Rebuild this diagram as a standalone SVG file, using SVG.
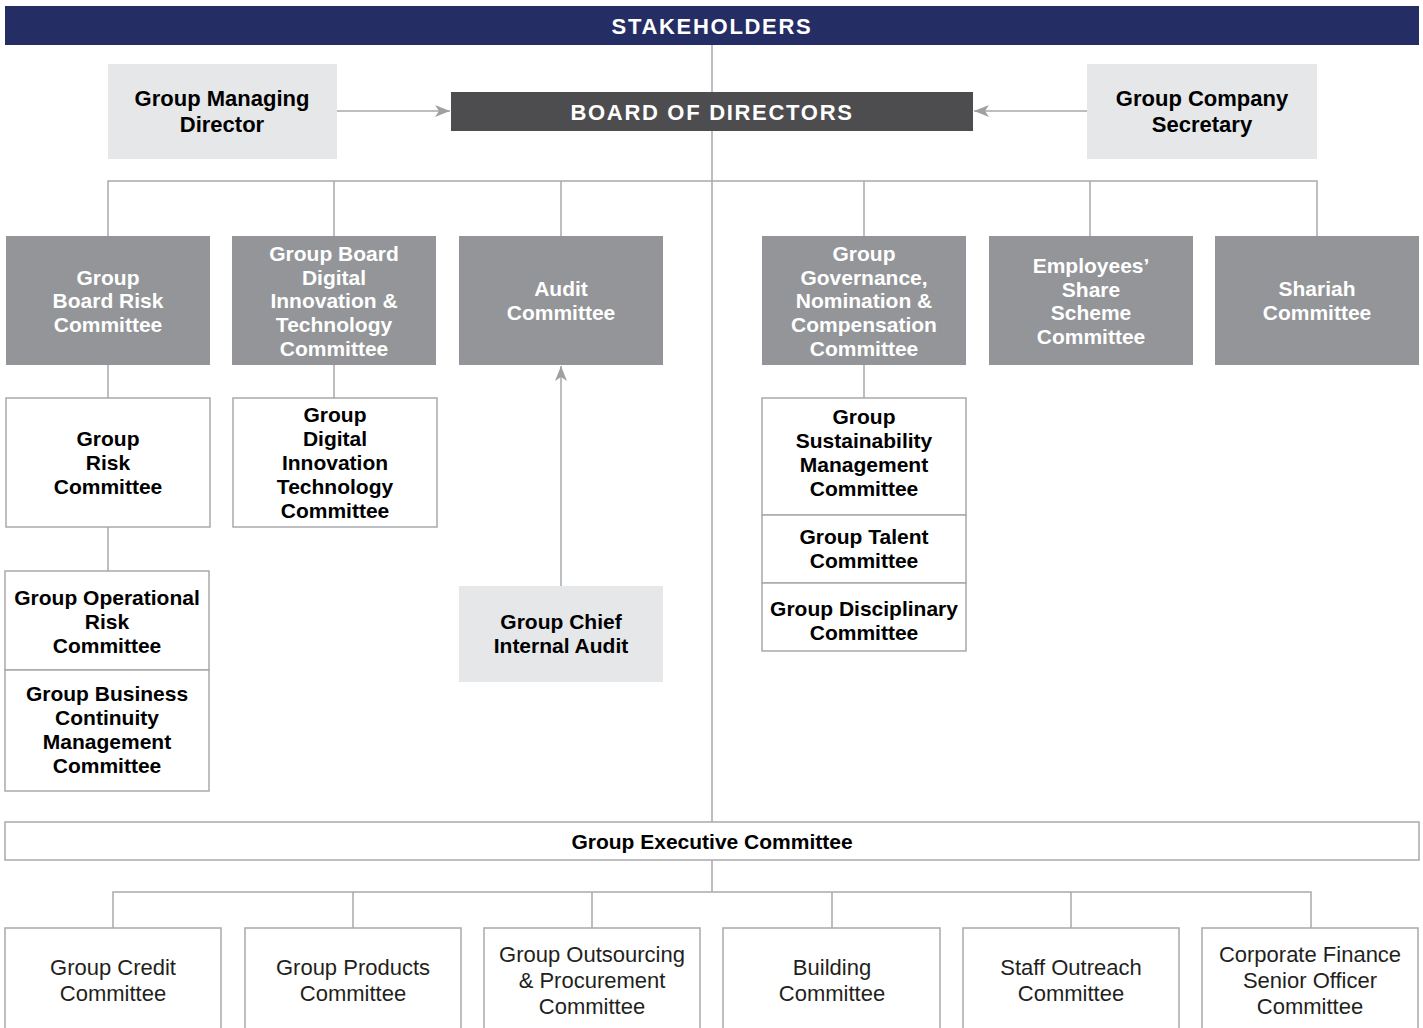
<svg xmlns="http://www.w3.org/2000/svg" width="1423" height="1028" viewBox="0 0 1423 1028">
<style>
.ln{stroke:#a7a9ac;stroke-width:1.5;fill:none}
.lt{fill:#e6e7e9}
.gr{fill:#939598}
.wb{fill:#ffffff;stroke:#a7a9ac;stroke-width:1.5}
.tw{font-family:"Liberation Sans",Arial,sans-serif;font-weight:bold;font-size:21px;fill:#ffffff;text-anchor:middle}
.tb{font-family:"Liberation Sans",Arial,sans-serif;font-weight:bold;font-size:21px;fill:#000000;text-anchor:middle}
.tl{font-family:"Liberation Sans",Arial,sans-serif;font-weight:bold;font-size:22px;fill:#000000;text-anchor:middle}
.tr{font-family:"Liberation Sans",Arial,sans-serif;font-size:22px;fill:#231f20;text-anchor:middle}
.th{font-family:"Liberation Sans",Arial,sans-serif;font-weight:bold;font-size:22px;fill:#ffffff;text-anchor:middle;letter-spacing:1.7px}
</style>
<defs>
<marker id="ah" markerUnits="userSpaceOnUse" markerWidth="16" markerHeight="12" refX="15" refY="6" orient="auto">
<path d="M0,0 L15,6 L0,12 L4,6 Z" fill="#a0a0a0"/>
</marker>
</defs>
<rect width="1423" height="1028" fill="#ffffff"/>
<g id="connectors">
<line class="ln" x1="712" y1="45" x2="712" y2="822"/>
<line class="ln" x1="337" y1="111" x2="450" y2="111" marker-end="url(#ah)"/>
<line class="ln" x1="1087" y1="111" x2="974" y2="111" marker-end="url(#ah)"/>
<polyline class="ln" points="108,236 108,181 1317,181 1317,236"/>
<line class="ln" x1="334" y1="181" x2="334" y2="236"/>
<line class="ln" x1="561" y1="181" x2="561" y2="236"/>
<line class="ln" x1="864" y1="181" x2="864" y2="236"/>
<line class="ln" x1="1090" y1="181" x2="1090" y2="236"/>
<line class="ln" x1="108" y1="365" x2="108" y2="398"/>
<line class="ln" x1="108" y1="527" x2="108" y2="571"/>
<line class="ln" x1="334" y1="365" x2="334" y2="398"/>
<line class="ln" x1="864" y1="365" x2="864" y2="398"/>
<line class="ln" x1="561" y1="586" x2="561" y2="366" marker-end="url(#ah)"/>
<line class="ln" x1="712" y1="860" x2="712" y2="892"/>
<polyline class="ln" points="113,928 113,892 1311,892 1311,928"/>
<line class="ln" x1="353" y1="892" x2="353" y2="928"/>
<line class="ln" x1="592" y1="892" x2="592" y2="928"/>
<line class="ln" x1="832" y1="892" x2="832" y2="928"/>
<line class="ln" x1="1071" y1="892" x2="1071" y2="928"/>
</g>
<g id="stakeholders">
<rect x="5" y="6" width="1414" height="39" fill="#252e64"/>
<text class="th" x="712" y="34">STAKEHOLDERS</text>
</g>
<g id="gmd">
<rect class="lt" x="108" y="64" width="229" height="95"/>
<text class="tl" x="222" y="106">Group Managing</text>
<text class="tl" x="222" y="132">Director</text>
</g>
<g id="board">
<rect x="451" y="92" width="522" height="39" fill="#4d4d4f"/>
<text class="th" x="712" y="120">BOARD OF DIRECTORS</text>
</g>
<g id="gcs">
<rect class="lt" x="1087" y="64" width="230" height="95"/>
<text class="tl" x="1202" y="106">Group Company</text>
<text class="tl" x="1202" y="132">Secretary</text>
</g>
<g id="gbrc">
<rect class="gr" x="6" y="236" width="204" height="129"/>
<text class="tw" x="108" y="285">Group</text>
<text class="tw" x="108" y="308">Board Risk</text>
<text class="tw" x="108" y="332">Committee</text>
</g>
<g id="gbdit">
<rect class="gr" x="232" y="236" width="204" height="129"/>
<text class="tw" x="334" y="261">Group Board</text>
<text class="tw" x="334" y="285">Digital</text>
<text class="tw" x="334" y="308">Innovation &amp;</text>
<text class="tw" x="334" y="332">Technology</text>
<text class="tw" x="334" y="356">Committee</text>
</g>
<g id="audit">
<rect class="gr" x="459" y="236" width="204" height="129"/>
<text class="tw" x="561" y="296">Audit</text>
<text class="tw" x="561" y="320">Committee</text>
</g>
<g id="ggnc">
<rect class="gr" x="762" y="236" width="204" height="129"/>
<text class="tw" x="864" y="261">Group</text>
<text class="tw" x="864" y="285">Governance,</text>
<text class="tw" x="864" y="308">Nomination &amp;</text>
<text class="tw" x="864" y="332">Compensation</text>
<text class="tw" x="864" y="356">Committee</text>
</g>
<g id="ess">
<rect class="gr" x="989" y="236" width="204" height="129"/>
<text class="tw" x="1091" y="273">Employees’</text>
<text class="tw" x="1091" y="297">Share</text>
<text class="tw" x="1091" y="320">Scheme</text>
<text class="tw" x="1091" y="344">Committee</text>
</g>
<g id="shariah">
<rect class="gr" x="1215" y="236" width="204" height="129"/>
<text class="tw" x="1317" y="296">Shariah</text>
<text class="tw" x="1317" y="320">Committee</text>
</g>
<g id="grc">
<rect class="wb" x="6" y="398" width="204" height="129"/>
<text class="tb" x="108" y="446">Group</text>
<text class="tb" x="108" y="470">Risk</text>
<text class="tb" x="108" y="494">Committee</text>
</g>
<g id="gdit">
<rect class="wb" x="233" y="398" width="204" height="129"/>
<text class="tb" x="335" y="422">Group</text>
<text class="tb" x="335" y="446">Digital</text>
<text class="tb" x="335" y="470">Innovation</text>
<text class="tb" x="335" y="494">Technology</text>
<text class="tb" x="335" y="518">Committee</text>
</g>
<g id="gorc">
<rect class="wb" x="5" y="571" width="204" height="99"/>
<text class="tb" x="107" y="605">Group Operational</text>
<text class="tb" x="107" y="629">Risk</text>
<text class="tb" x="107" y="653">Committee</text>
</g>
<g id="gbcm">
<rect class="wb" x="5" y="670" width="204" height="121"/>
<text class="tb" x="107" y="701">Group Business</text>
<text class="tb" x="107" y="725">Continuity</text>
<text class="tb" x="107" y="749">Management</text>
<text class="tb" x="107" y="773">Committee</text>
</g>
<g id="gcia">
<rect class="lt" x="459" y="586" width="204" height="96"/>
<text class="tb" x="561" y="629">Group Chief</text>
<text class="tb" x="561" y="653">Internal Audit</text>
</g>
<g id="gsmc">
<rect class="wb" x="762" y="398" width="204" height="117"/>
<text class="tb" x="864" y="424">Group</text>
<text class="tb" x="864" y="448">Sustainability</text>
<text class="tb" x="864" y="472">Management</text>
<text class="tb" x="864" y="496">Committee</text>
</g>
<g id="gtc">
<rect class="wb" x="762" y="515" width="204" height="68"/>
<text class="tb" x="864" y="544">Group Talent</text>
<text class="tb" x="864" y="568">Committee</text>
</g>
<g id="gdc">
<rect class="wb" x="762" y="583" width="204" height="68"/>
<text class="tb" x="864" y="616">Group Disciplinary</text>
<text class="tb" x="864" y="640">Committee</text>
</g>
<g id="gec">
<rect class="wb" x="5" y="822" width="1414" height="38"/>
<text class="tb" x="712" y="849">Group Executive Committee</text>
</g>
<g id="gcc">
<rect class="wb" x="5" y="928" width="216" height="110"/>
<text class="tr" x="113" y="975">Group Credit</text>
<text class="tr" x="113" y="1001">Committee</text>
</g>
<g id="gpc">
<rect class="wb" x="245" y="928" width="216" height="110"/>
<text class="tr" x="353" y="975">Group Products</text>
<text class="tr" x="353" y="1001">Committee</text>
</g>
<g id="gopc">
<rect class="wb" x="484" y="928" width="216" height="110"/>
<text class="tr" x="592" y="962">Group Outsourcing</text>
<text class="tr" x="592" y="988">&amp; Procurement</text>
<text class="tr" x="592" y="1014">Committee</text>
</g>
<g id="bc">
<rect class="wb" x="723" y="928" width="217" height="110"/>
<text class="tr" x="832" y="975">Building</text>
<text class="tr" x="832" y="1001">Committee</text>
</g>
<g id="soc">
<rect class="wb" x="963" y="928" width="216" height="110"/>
<text class="tr" x="1071" y="975">Staff Outreach</text>
<text class="tr" x="1071" y="1001">Committee</text>
</g>
<g id="cfsoc">
<rect class="wb" x="1202" y="928" width="216" height="110"/>
<text class="tr" x="1310" y="962">Corporate Finance</text>
<text class="tr" x="1310" y="988">Senior Officer</text>
<text class="tr" x="1310" y="1014">Committee</text>
</g>
</svg>
